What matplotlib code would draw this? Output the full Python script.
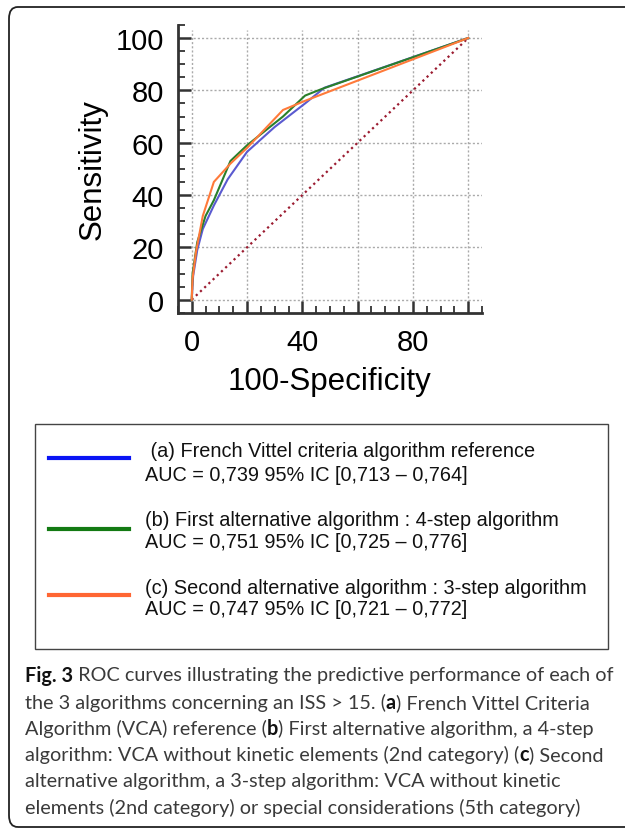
import matplotlib
matplotlib.use("Agg")
import matplotlib.pyplot as plt
from matplotlib.patches import Rectangle, FancyBboxPatch
from matplotlib.ticker import MultipleLocator, FuncFormatter

# ---------------- data ----------------
fpr_a = [0, 0.5, 2, 4, 8, 13, 20, 30, 41, 48, 100]
tpr_a = [0, 9, 19, 27, 36, 46, 56.5, 66, 75, 81, 100]

fpr_b = [0, 0.3, 2, 5, 8, 14, 20, 33, 41, 47, 100]
tpr_b = [0, 10, 22, 32, 38, 53, 59, 70, 78, 80.5, 100]

fpr_c = [0, 0.3, 1.5, 4, 8, 14, 20, 33, 41, 100]
tpr_c = [0, 8, 18, 32, 45, 52, 58, 72.5, 76, 100]

ref_x = [0, 100]
ref_y = [0, 100]

y_ticks = [0, 20, 40, 60, 80, 100]
x_tick_labels = [0, 40, 80]

legend_titles = [" (a) French Vittel criteria algorithm reference",
                 "(b) First alternative algorithm : 4-step algorithm",
                 "(c) Second alternative algorithm : 3-step algorithm"]
legend_auc = ["AUC = 0,739 95% IC [0,713 \u2013 0,764]",
              "AUC = 0,751 95% IC [0,725 \u2013 0,776]",
              "AUC = 0,747 95% IC [0,721 \u2013 0,772]"]

caption_lines = [
    [("Fig. 3", "bold"), (" ROC curves illustrating the predictive performance of each of", "normal")],
    [("the 3 algorithms concerning an ISS > 15. (", "normal"), ("a", "bold"), (") French Vittel Criteria", "normal")],
    [("Algorithm (VCA) reference (", "normal"), ("b", "bold"), (") First alternative algorithm, a 4-step", "normal")],
    [("algorithm: VCA without kinetic elements (2nd category) (", "normal"), ("c", "bold"), (") Second", "normal")],
    [("alternative algorithm, a 3-step algorithm: VCA without kinetic", "normal")],
    [("elements (2nd category) or special considerations (5th category)", "normal")],
]

# ---------------- figure ----------------
W, H = 625, 829
fig = plt.figure(figsize=(W / 100, H / 100), dpi=100)
fig.patch.set_facecolor("white")


def fx(px):
    return px / W


def fy(py):
    return 1 - py / H


# outer rounded border
border = FancyBboxPatch((fx(9), fy(828)), fx(700) - fx(9), fy(8) - fy(828),
                        boxstyle="round,pad=0,rounding_size=0.014",
                        transform=fig.transFigure, fill=False,
                        edgecolor="#222222", linewidth=1.3)
fig.patches.append(border)

ax_font = "Liberation Sans"
ax = fig.add_axes([fx(177.9), fy(313.8), fx(482.1) - fx(177.9), fy(25.9) - fy(313.8)])
ax.set_xlim(-5, 105)
ax.set_ylim(-5, 105)

ax.plot(ref_x, ref_y, color="#9b1b30", linestyle=(0, (1, 1.6)), linewidth=1.6, zorder=2)
ax.plot(fpr_a, tpr_a, color="#5a5ad0", linewidth=1.5, zorder=3)
ax.plot(fpr_b, tpr_b, color="#2a7f2a", linewidth=1.5, zorder=4)
ax.plot(fpr_c, tpr_c, color="#ff7a3a", linewidth=1.5, zorder=5)

for v in y_ticks:
    ax.plot([-1, 105], [v, v], color="#aaaaaa", linestyle=(0, (1.5, 1.5)), linewidth=1.0, zorder=1)
    ax.plot([v, v], [-1, 103], color="#aaaaaa", linestyle=(0, (1.5, 1.5)), linewidth=1.0, zorder=1)

for s in ["top", "right"]:
    ax.spines[s].set_visible(False)
for s in ["left", "bottom"]:
    ax.spines[s].set_linewidth(2.0)
    ax.spines[s].set_color("#333333")

ax.xaxis.set_major_locator(MultipleLocator(20))
ax.xaxis.set_minor_locator(MultipleLocator(5))
ax.yaxis.set_major_locator(MultipleLocator(20))
ax.yaxis.set_minor_locator(MultipleLocator(5))
ax.set_yticks(y_ticks)
ax.xaxis.set_major_formatter(FuncFormatter(lambda v, p: f"{int(round(v))}" if int(round(v)) in x_tick_labels else ""))
ax.tick_params(which="major", direction="in", length=9, width=1.8, color="#333333",
               labelsize=21, pad=10)
ax.tick_params(axis="x", which="major", pad=11)
ax.tick_params(which="minor", direction="in", length=5, width=1.3, color="#333333")
for lab in ax.get_xticklabels() + ax.get_yticklabels():
    lab.set_fontfamily(ax_font)

ax.set_xlabel("100-Specificity", fontsize=22.5, family=ax_font, labelpad=7)
ax.set_ylabel("Sensitivity", fontsize=22.5, family=ax_font, labelpad=6)

# ---------------- legend box ----------------
fig.patches.append(Rectangle((fx(35), fy(650)), fx(608) - fx(35), fy(425) - fy(650),
                             transform=fig.transFigure, fill=False,
                             edgecolor="#444444", linewidth=1.0))
handle_colors = ["#0a14f5", "#137a13", "#ff6633"]
handle_y = [459, 530, 596]
title_y = [452, 521, 588]
auc_y = [476, 543, 610]
for i in range(3):
    fig.add_artist(plt.Line2D([fx(49), fx(129)], [fy(handle_y[i]), fy(handle_y[i])],
                              color=handle_colors[i], linewidth=3.0,
                              transform=fig.transFigure))
    fig.text(fx(145), fy(title_y[i]), legend_titles[i], fontsize=14.3, family=ax_font,
             va="center", ha="left", color="#111111")
    fig.text(fx(145), fy(auc_y[i]), legend_auc[i], fontsize=14.3, family=ax_font,
             va="center", ha="left", color="#111111")

# ---------------- caption ----------------
cap_font = "Lato"
cap_size = 14.3
cap_y = [676, 703, 729, 755, 782, 808]
for line, yy in zip(caption_lines, cap_y):
    prev = None
    for text, weight in line:
        color = "#111111" if weight == "bold" else "#3a3a3a"
        if prev is None:
            prev = fig.text(fx(25), fy(yy), text, fontsize=cap_size, family=cap_font,
                            fontweight=weight, va="center", ha="left", color=color)
        else:
            prev = fig.add_artist(matplotlib.text.Annotation(
                text, xy=(1, 0.5), xycoords=prev, va="center", ha="left",
                fontsize=cap_size, family=cap_font, fontweight=weight, color=color))

fig.savefig("out.png", dpi=100)
